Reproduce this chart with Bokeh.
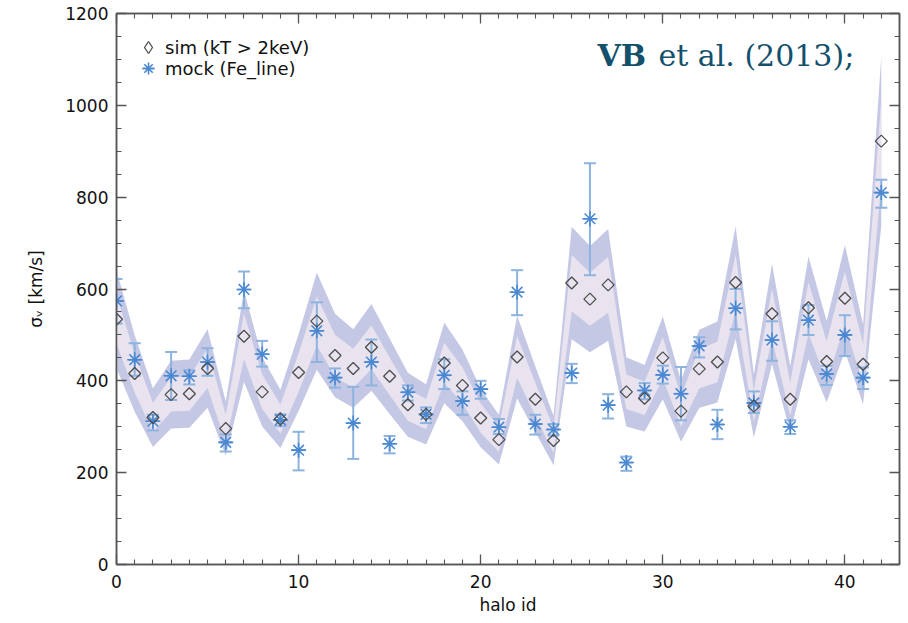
import numpy as np
from bokeh.plotting import figure
from bokeh.models import (ColumnDataSource, LinearAxis, SingleIntervalTicker, Range1d,
                          Label, Legend, LegendItem, CustomJSTickFormatter, Scatter)
from bokeh.embed import file_html
from bokeh.resources import INLINE

# ---------------- data ----------------
halo_id = list(range(43))
sim_sigma = [534, 416, 320, 370, 372, 427, 296, 497, 376, 317,
             418, 530, 455, 427, 473, 410, 348, 327, 439, 390,
             319, 272, 452, 360, 270, 613, 578, 609, 376, 362,
             450, 334, 426, 441, 614, 345, 546, 360, 559, 442,
             580, 436, 922]
mock_sigma = [574, 446, 312, 411, 410, 441, 266, 599, 458, 315,
              249, 509, 407, 308, 441, 263, 375, 327, 412, 356,
              382, 299, 593, 306, 294, 417, 753, 347, 222, 379,
              413, 372, 476, 305, 558, 352, 489, 300, 532, 415,
              500, 407, 810]
mock_err_hi = [622, 482, 326, 463, 423, 471, 283, 638, 487, 327,
               289, 571, 427, 387, 490, 280, 390, 342, 447, 377,
               400, 317, 641, 326, 306, 437, 874, 371, 235, 395,
               433, 430, 495, 337, 600, 377, 530, 314, 565, 433,
               543, 429, 838]
mock_err_lo = [525, 411, 292, 358, 392, 411, 246, 558, 431, 302,
               205, 441, 385, 230, 390, 242, 357, 308, 382, 326,
               361, 284, 543, 283, 281, 395, 630, 318, 204, 360,
               394, 314, 451, 273, 512, 330, 444, 284, 500, 391,
               454, 382, 777]
# centre of the shaded band and its relative half-widths
band_center = [534, 416, 320, 370, 372, 427, 296, 497, 376, 317,
               418, 530, 455, 427, 473, 410, 348, 327, 439, 390,
               319, 272, 452, 360, 270, 613, 578, 609, 376, 362,
               450, 334, 426, 441, 614, 345, 546, 360, 559, 442,
               580, 436, 922]
band_inner_frac = 0.10
band_outer_frac = 0.20

sim_label = "sim (kT > 2keV)"
mock_label = "mock (Fe_line)"
x_label = "halo id"
y_label = "σᵥ [km/s]"
title_bold = "VB"
title_rest = "et al. (2013);"

# ---------------- derived columns ----------------
bc = np.array(band_center, dtype=float)
band_src = ColumnDataSource(dict(
    x=halo_id,
    lo_out=bc * (1 - band_outer_frac), hi_out=bc * (1 + band_outer_frac),
    lo_in=bc * (1 - band_inner_frac), hi_in=bc * (1 + band_inner_frac),
))
sim_src = ColumnDataSource(dict(x=halo_id, y=sim_sigma))
mock_src = ColumnDataSource(dict(x=halo_id, y=mock_sigma, hi=mock_err_hi, lo=mock_err_lo))

FONT = "DejaVu Sans"
AX_COL = "#555555"

p = figure(width=908, height=623, output_backend="svg", toolbar_location=None,
           x_range=Range1d(0, 43), y_range=Range1d(0, 1200),
           min_border_left=116, min_border_right=9, min_border_top=13, min_border_bottom=59,
           x_axis_location=None, y_axis_location=None)
p.xgrid.visible = False
p.ygrid.visible = False
p.outline_line_color = AX_COL
p.outline_line_width = 1.5
p.background_fill_color = "white"
p.border_fill_color = "white"

def style_axis(ax, show_labels):
    ax.axis_line_color = AX_COL
    ax.axis_line_width = 1.5
    ax.major_tick_in = 10
    ax.major_tick_out = 0
    ax.minor_tick_in = 5
    ax.minor_tick_out = 0
    ax.major_tick_line_color = AX_COL
    ax.minor_tick_line_color = AX_COL
    ax.major_tick_line_width = 1.3
    ax.minor_tick_line_width = 1.1
    if show_labels:
        ax.major_label_text_font = FONT
        ax.major_label_text_font_size = "17px"
        ax.major_label_text_color = "#111111"
        ax.axis_label_text_font = FONT
        ax.axis_label_text_font_size = "17px"
        ax.axis_label_text_font_style = "normal"
        ax.axis_label_text_color = "#111111"
    else:
        ax.formatter = CustomJSTickFormatter(code="return ''")
        ax.major_label_text_font_size = "1px"
        ax.major_label_standoff = 0

xb = LinearAxis(ticker=SingleIntervalTicker(interval=10, num_minor_ticks=10), axis_label=x_label)
style_axis(xb, True)
xb.major_label_standoff = 10
xb.axis_label_standoff = 4
p.add_layout(xb, "below")

xt = LinearAxis(ticker=SingleIntervalTicker(interval=10, num_minor_ticks=10))
style_axis(xt, False)
p.add_layout(xt, "above")

yl = LinearAxis(ticker=SingleIntervalTicker(interval=200, num_minor_ticks=4), axis_label=y_label)
style_axis(yl, True)
yl.major_label_standoff = 8
yl.axis_label_standoff = 16
p.add_layout(yl, "left")

yr = LinearAxis(ticker=SingleIntervalTicker(interval=200, num_minor_ticks=4))
style_axis(yr, False)
p.add_layout(yr, "right")

# band
p.varea(x="x", y1="lo_out", y2="hi_out", source=band_src, fill_color="#c5c8e4")
p.varea(x="x", y1="lo_in", y2="hi_in", source=band_src, fill_color="#e8e3ef")

# error bars
ERR_COL = "#8db3df"
p.segment(x0="x", y0="lo", x1="x", y1="hi", source=mock_src, line_color=ERR_COL, line_width=2)
p.scatter(x="x", y="hi", source=mock_src, marker="dash", size=12, line_color=ERR_COL, line_width=2)
p.scatter(x="x", y="lo", source=mock_src, marker="dash", size=12, line_color=ERR_COL, line_width=2)

MOCK_COL = "#4a88d2"
mock_r = p.scatter(x="x", y="y", source=mock_src, marker="asterisk", size=15,
                   line_color=MOCK_COL, line_width=1.6)
mock_r2 = p.scatter(x="x", y="y", source=mock_src, marker="dash", size=13,
                    line_color=MOCK_COL, line_width=1.6)
SIM_COL = "#4d4d4d"
sim_r = p.scatter(x="x", y="y", source=sim_src, marker="square", angle=np.pi / 4, size=8.5,
                  fill_color=None, line_color=SIM_COL, line_width=1.3)

# legend-only diamond: legend glyphs ignore marker angle, so a "diamond" marker is used
# for the key; in the plot itself this renderer is hidden via (non)selection glyphs.
legend_src = ColumnDataSource(dict(x=halo_id, y=sim_sigma))
legend_src.selected.indices = [0]
sim_leg = p.scatter(x="x", y="y", source=legend_src, marker="diamond", size=12,
                    fill_color=None, line_color=SIM_COL, line_width=1.3)
hidden = Scatter(x="x", y="y", marker="diamond", size=12, fill_alpha=0, line_alpha=0)
sim_leg.selection_glyph = hidden
sim_leg.nonselection_glyph = hidden

def make_legend(label, renderers, vy):
    return Legend(items=[LegendItem(label=label, renderers=renderers)],
                  location=(17, vy), orientation="vertical",
                  glyph_width=30, glyph_height=30, label_height=30, label_standoff=2,
                  spacing=0, padding=0, margin=0,
                  border_line_color=None, background_fill_alpha=0,
                  label_text_font=FONT, label_text_font_size="18px", label_text_color="#111111")

p.add_layout(make_legend(sim_label, [sim_leg], 502), "center")
p.add_layout(make_legend(mock_label, [mock_r, mock_r2], 481), "center")

TITLE_COL = "#13506c"
p.add_layout(Label(x=481, y=509, x_units="screen", y_units="screen", text=title_bold,
                   text_font="DejaVu Serif", text_font_style="bold", text_font_size="30px",
                   text_color=TITLE_COL, text_baseline="alphabetic", text_align="left"))
p.add_layout(Label(x=542, y=509, x_units="screen", y_units="screen", text=title_rest,
                   text_font="DejaVu Serif", text_font_size="30px",
                   text_color=TITLE_COL, text_baseline="alphabetic", text_align="left"))

open("out.html", "w").write(file_html(p, INLINE))
